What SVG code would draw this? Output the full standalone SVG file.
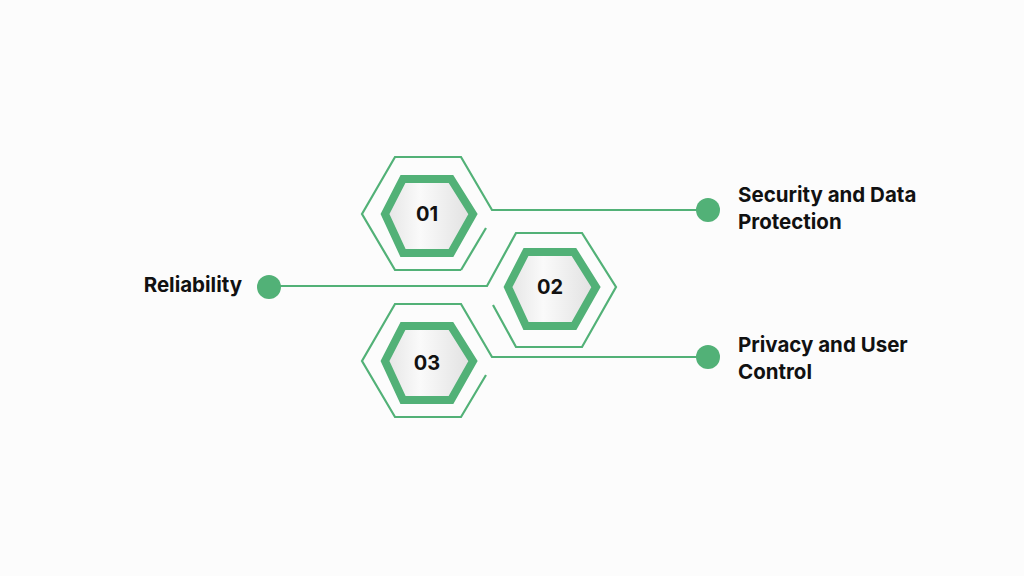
<svg xmlns="http://www.w3.org/2000/svg" width="1024" height="576" viewBox="0 0 1024 576">
<style>
.o{fill:none;stroke:#52b177;stroke-width:2.2;stroke-linejoin:miter}
.i{fill:url(#g);stroke:#52b177;stroke-width:8}
.n{font-family:Inter,"Liberation Sans",sans-serif;font-weight:700;font-size:20px;fill:#111;text-anchor:middle}
.t{font-family:Inter,"Liberation Sans",sans-serif;font-weight:700;font-size:20.5px;fill:#111}
.d{fill:#52b177}
</style>
<defs>
<linearGradient id="g" x1="0" y1="0" x2="1" y2="0">
<stop offset="0" stop-color="#e4e4e4"/><stop offset="0.4" stop-color="#fafafa"/><stop offset="1" stop-color="#e0e0e0"/>
</linearGradient>
</defs>
<rect width="1024" height="576" fill="#fcfcfc"/>
<g id="connectors">
<polyline class="o" points="708,210 492,210 461,157 395,157 362,214 395,270 461,270"/>
<line class="o" x1="461" y1="270" x2="486" y2="228"/>
<polyline class="o" points="269,286 487,286 516,233 582,233 616,287 582,347 516,347 493,305"/>
<polyline class="o" points="708,357 492,357 461,304 395,304 362,361 395,417 461,417 486,375"/>
<circle class="d" cx="708" cy="210" r="12"/>
<circle class="d" cx="269" cy="287" r="12"/>
<circle class="d" cx="708" cy="357" r="12"/>
</g>
<g id="n1"><polygon class="i" points="403,179 451,179 473,214 451,253 403,253 385,214"/><text class="n" x="427" y="221">01</text></g>
<g id="n2"><polygon class="i" points="526,252 574,252 596,287 574,326 526,326 508,287"/><text class="n" x="550" y="294">02</text></g>
<g id="n3"><polygon class="i" points="403,326 451,326 473,361 451,400 403,400 385,361"/><text class="n" x="427" y="370">03</text></g>
<g id="l1"><text class="t" x="738" y="202">Security and Data</text><text class="t" x="738" y="229">Protection</text></g>
<g id="l2"><text class="t" x="242" y="292" text-anchor="end">Reliability</text></g>
<g id="l3"><text class="t" x="738" y="352">Privacy and User</text><text class="t" x="738" y="379">Control</text></g>
</svg>
